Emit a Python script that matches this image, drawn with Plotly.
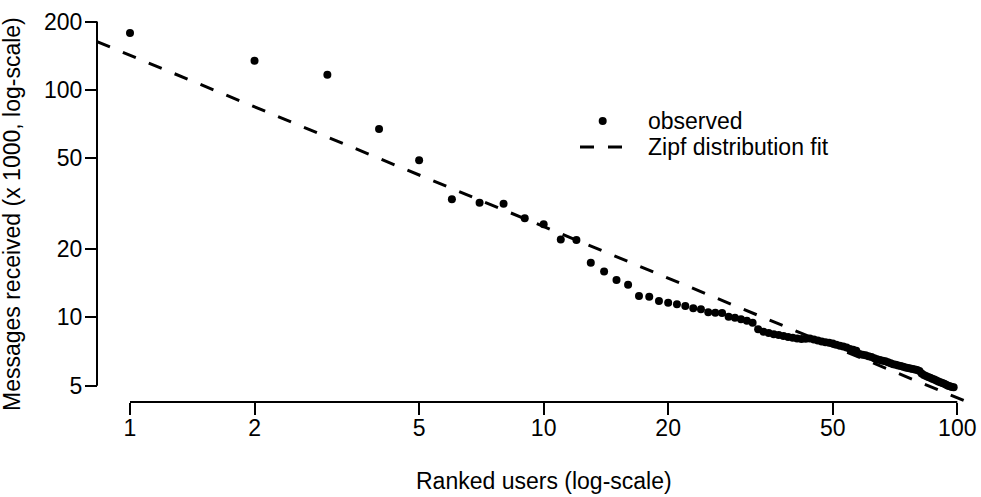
import math
import plotly.graph_objects as go

# Messages received per user (thousands), users ranked by volume
rank = list(range(1, 99))
messages_k = [
    178, 134.6, 116.8, 67.4, 49.1, 33.1, 31.9, 31.6, 27.3, 25.7,
    22.0, 21.9, 17.4, 15.9, 14.6, 13.9, 12.4, 12.3, 11.8, 11.6,
    11.4, 11.2, 10.96, 10.85, 10.52, 10.48, 10.45, 10.06, 9.96, 9.80,
    9.66, 9.47, 8.86, 8.64, 8.52, 8.42, 8.35, 8.27, 8.2, 8.12,
    8.06, 8.02, 8.05, 8.06, 7.98, 7.9, 7.82, 7.76, 7.72, 7.66,
    7.58, 7.5, 7.44, 7.36, 7.26, 7.2, 7.12, 6.9, 6.84, 6.8,
    6.74, 6.68, 6.6, 6.54, 6.49, 6.44, 6.4, 6.34, 6.28, 6.22,
    6.18, 6.14, 6.1, 6.06, 6.02, 5.98, 5.95, 5.92, 5.89, 5.86,
    5.8, 5.66, 5.58, 5.52, 5.46, 5.42, 5.37, 5.32, 5.27, 5.22,
    5.18, 5.14, 5.1, 5.05, 5.0, 4.97, 4.94, 4.92,
]

# Zipf fit: messages = C * rank^(-s)
zipf_c = 142.2
zipf_s = 0.7536

x_ticks = [1, 2, 5, 10, 20, 50, 100]
y_ticks = [5, 10, 20, 50, 100, 200]

legend_labels = ["observed", "Zipf distribution fit"]
x_title = "Ranked users (log-scale)"
y_title = "Messages received (x 1000, log-scale)"

# ---- layout geometry (pixels) ----
W, H = 981, 497
ML, MR, MT, MB = 97, 0, 21, 95
PW, PH = W - ML - MR, H - MT - MB
x_range = [-0.0798, 2.0573]   # log10 units of the plotting region
y_range = [0.6273, 2.3037]

FONT = "Liberation Sans, Arial, Helvetica, sans-serif"
FS = 23
INK = "black"
CLEAR = "rgba(0,0,0,0)"
AXIS_W = 2


def px(xp):
    return (xp - ML) / PW


def py(yp):
    return (MT + PH - yp) / PH


def x_frac(v):
    """Data value on the log x scale -> fraction of the plotting region."""
    return (math.log10(v) - x_range[0]) / (x_range[1] - x_range[0])


def y_frac(v):
    """Data value on the log y scale -> fraction of the plotting region."""
    return (math.log10(v) - y_range[0]) / (y_range[1] - y_range[0])


fig = go.Figure()

# fitted Zipf line across the whole plotting region
fit_rank = [10 ** x_range[0], 10 ** x_range[1]]
fit_vals = [zipf_c * r ** (-zipf_s) for r in fit_rank]
fig.add_trace(go.Scatter(
    x=fit_rank, y=fit_vals, mode="lines",
    line=dict(color=INK, width=3, dash="14px,14px"),
    showlegend=False, hoverinfo="skip",
))

# observed counts
fig.add_trace(go.Scatter(
    x=rank, y=messages_k, mode="markers",
    marker=dict(color=INK, size=8, line=dict(width=0)),
    showlegend=False,
))

# empty trace so the tick-span axes get a subplot
fig.add_trace(go.Scatter(x=[], y=[], xaxis="x2", yaxis="y2",
                         showlegend=False, hoverinfo="skip"))

shapes = [
    # axis lines running from the first to the last tick
    dict(type="line", xref="paper", yref="paper",
         x0=x_frac(x_ticks[0]), x1=x_frac(x_ticks[-1]), y0=0, y1=0,
         line=dict(color=INK, width=AXIS_W)),
    dict(type="line", xref="paper", yref="paper", x0=0, x1=0,
         y0=y_frac(y_ticks[0]), y1=y_frac(y_ticks[-1]),
         line=dict(color=INK, width=AXIS_W)),
    # legend keys
    dict(type="circle", xref="paper", yref="paper",
         x0=px(598.7), x1=px(606.7), y0=py(117), y1=py(125),
         fillcolor=INK, line=dict(width=0)),
    dict(type="line", xref="paper", yref="paper",
         x0=px(580), x1=px(623), y0=py(147), y1=py(147),
         line=dict(color=INK, width=3, dash="14px,14px")),
]

annotations = [
    dict(text=legend_labels[0], xref="paper", yref="paper", x=px(646), y=py(121),
         xanchor="left", yanchor="middle", showarrow=False,
         font=dict(family=FONT, size=FS, color=INK)),
    dict(text=legend_labels[1], xref="paper", yref="paper", x=px(646), y=py(147),
         xanchor="left", yanchor="middle", showarrow=False,
         font=dict(family=FONT, size=FS, color=INK)),
    dict(text=x_title, xref="paper", yref="paper", x=px(543.5), y=py(481),
         xanchor="center", yanchor="middle", showarrow=False,
         font=dict(family=FONT, size=FS, color=INK)),
    dict(text=y_title, xref="paper", yref="paper", x=px(12), y=py(214),
         xanchor="center", yanchor="middle", showarrow=False, textangle=-90,
         font=dict(family=FONT, size=FS, color=INK)),
]

hidden = dict(type="log", visible=False, showgrid=False, zeroline=False,
              automargin=False)
shown = dict(
    type="log", showgrid=False, zeroline=False, showline=False,
    ticks="outside", ticklen=12, tickwidth=1.5, tickcolor=INK,
    tickfont=dict(family=FONT, size=FS, color=INK),
    anchor="free", position=0, fixedrange=True, automargin=False,
)

fig.update_layout(
    width=W, height=H,
    margin=dict(l=ML, r=MR, t=MT, b=MB, pad=0, autoexpand=False),
    paper_bgcolor="white", plot_bgcolor=CLEAR,
    font=dict(family=FONT, size=FS, color=INK),
    xaxis=dict(range=x_range, **hidden),
    yaxis=dict(range=y_range, **hidden),
    xaxis2=dict(domain=[x_frac(x_ticks[0]), x_frac(x_ticks[-1])],
                range=[math.log10(x_ticks[0]), math.log10(x_ticks[-1])],
                tickvals=x_ticks, ticktext=[str(v) for v in x_ticks],
                ticklabelstandoff=-7, **shown),
    yaxis2=dict(domain=[y_frac(y_ticks[0]), y_frac(y_ticks[-1])],
                range=[math.log10(y_ticks[0]), math.log10(y_ticks[-1])],
                tickvals=y_ticks, ticktext=[str(v) for v in y_ticks],
                ticklabelstandoff=-2, **shown),
    shapes=shapes,
    annotations=annotations,
    showlegend=False,
)

fig.write_html("out.html")
